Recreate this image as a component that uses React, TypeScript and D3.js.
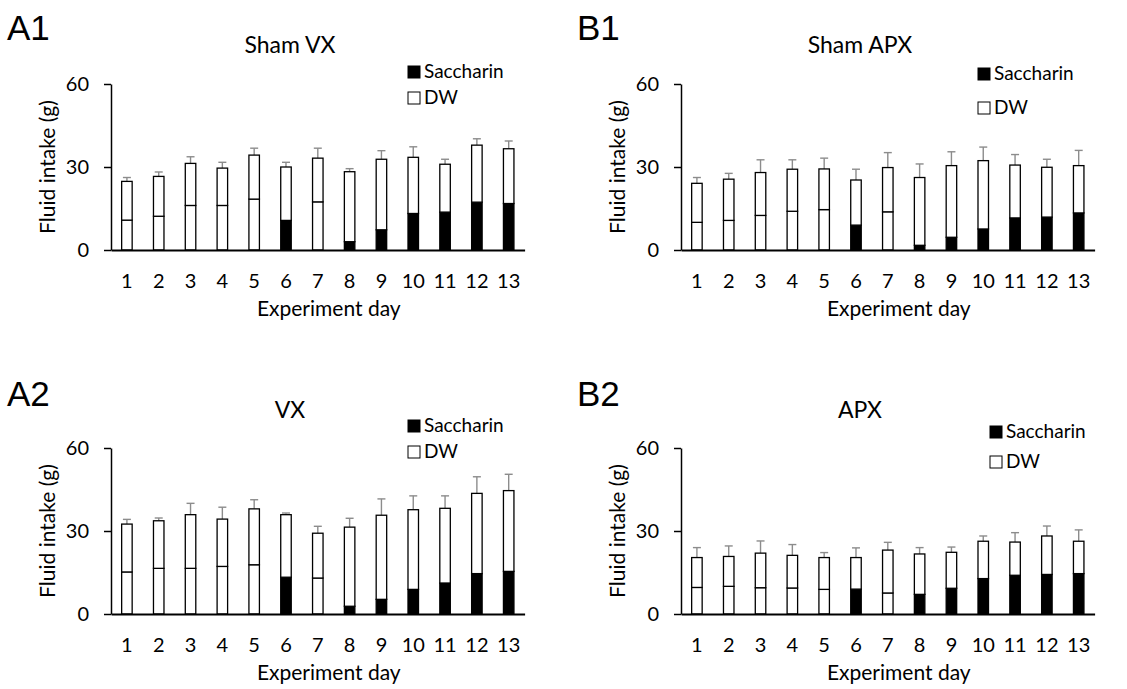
import React, { useEffect, useRef } from 'react';
import * as d3 from 'd3';

// experiment days and the days where the lower bottle held saccharin
const days = ['1', '2', '3', '4', '5', '6', '7', '8', '9', '10', '11', '12', '13'];
const saccharinDays = ['6', '8', '9', '10', '11', '12', '13'];
const yTicks = [0, 30, 60];

// lower segment = first bottle, upper segment = DW, sem = error bar (g)
const shamVxLower = [10.8, 12.2, 16.1, 16.1, 18.4, 10.7, 17.4, 3.0, 7.3, 13.2, 13.7, 17.3, 16.8];
const shamVxUpper = [14.0, 14.4, 15.2, 13.5, 15.9, 19.3, 15.8, 25.3, 25.5, 20.3, 17.3, 20.6, 19.8];
const shamVxSem = [1.4, 1.6, 2.4, 2.1, 2.5, 1.7, 3.6, 1.1, 3.1, 3.8, 1.8, 2.3, 2.8];

const shamApxLower = [10.0, 10.7, 12.5, 14.0, 14.6, 9.0, 13.8, 1.7, 4.6, 7.6, 11.6, 11.9, 13.4];
const shamApxUpper = [14.1, 14.9, 15.5, 15.2, 14.7, 16.3, 16.0, 24.5, 25.9, 24.7, 19.1, 18.0, 17.1];
const shamApxSem = [2.1, 2.1, 4.6, 3.4, 3.9, 3.9, 5.4, 4.9, 5.0, 4.9, 3.8, 2.9, 5.5];

const vxLower = [15.2, 16.5, 16.5, 17.2, 17.8, 13.3, 13.0, 2.8, 5.3, 8.9, 11.2, 14.6, 15.4];
const vxUpper = [17.3, 17.2, 19.4, 17.1, 20.2, 22.6, 16.2, 28.6, 30.4, 28.8, 27.0, 29.0, 29.2];
const vxSem = [1.7, 1.0, 4.1, 4.3, 3.3, 0.6, 2.5, 3.2, 5.9, 5.0, 4.5, 6.0, 5.9];

const apxLower = [9.6, 10.0, 9.5, 9.4, 8.9, 9.0, 7.6, 7.1, 9.3, 12.8, 14.0, 14.3, 14.6];
const apxUpper = [10.8, 10.8, 12.5, 11.8, 11.5, 11.4, 15.5, 14.6, 13.0, 13.5, 12.0, 13.9, 11.7];
const apxSem = [3.6, 3.8, 4.4, 3.9, 1.8, 3.5, 2.8, 2.3, 1.9, 1.9, 3.4, 3.6, 4.1];

const FONT = 'Lato, "Open Sans", sans-serif';

const panels = [
  { letter: 'A1', title: 'Sham VX', lower: shamVxLower, upper: shamVxUpper, sem: shamVxSem,
    left: 111, top: 84, bottom: 250, ox: 0, titleX: 290, titleY: 53, letterY: 40,
    legX: 408, legY1: 72, legY2: 98 },
  { letter: 'B1', title: 'Sham APX', lower: shamApxLower, upper: shamApxUpper, sem: shamApxSem,
    left: 681, top: 84, bottom: 250, ox: 570, titleX: 860, titleY: 53, letterY: 40,
    legX: 978, legY1: 74, legY2: 108 },
  { letter: 'A2', title: 'VX', lower: vxLower, upper: vxUpper, sem: vxSem,
    left: 111, top: 448, bottom: 614, ox: 0, titleX: 290, titleY: 418, letterY: 406,
    legX: 408, legY1: 426, legY2: 452 },
  { letter: 'B2', title: 'APX', lower: apxLower, upper: apxUpper, sem: apxSem,
    left: 681, top: 448, bottom: 614, ox: 570, titleX: 860, titleY: 418, letterY: 406,
    legX: 990, legY1: 432, legY2: 462 },
];

const plotWidth = 413.6;

export default function App() {
  const svgRef = useRef<SVGSVGElement>(null);

  useEffect(() => {
    const svg = d3.select(svgRef.current);
    svg.selectAll('*').remove();

    panels.forEach((p) => {
      const g = svg.append('g');
      const x = d3.scaleBand().domain(days).range([p.left, p.left + plotWidth])
        .paddingInner(0.67).paddingOuter(0.335);
      const y = d3.scaleLinear().domain([0, 60]).range([p.bottom, p.top]);

      const rows = days.map((d, i) => ({ day: d, lower: p.lower[i], upper: p.upper[i], sem: p.sem[i] }));
      const stacked = d3.stack<any>().keys(['lower', 'upper'])(rows);

      // error bars (upward only)
      rows.forEach((r) => {
        const cx = (x(r.day) as number) + x.bandwidth() / 2;
        const t = r.lower + r.upper;
        g.append('line').attr('x1', cx).attr('x2', cx).attr('y1', y(t)).attr('y2', y(t + r.sem))
          .attr('stroke', '#8c8c8c').attr('stroke-width', 1.4);
        g.append('line').attr('x1', cx - 4).attr('x2', cx + 4).attr('y1', y(t + r.sem)).attr('y2', y(t + r.sem))
          .attr('stroke', '#8c8c8c').attr('stroke-width', 1.4);
      });

      stacked.forEach((layer) => {
        g.append('g').selectAll('rect').data(layer).enter().append('rect')
          .attr('x', (d: any) => x(d.data.day) as number)
          .attr('width', x.bandwidth())
          .attr('y', (d: any) => y(d[1]))
          .attr('height', (d: any) => y(d[0]) - y(d[1]))
          .attr('fill', (d: any) => (layer.key === 'lower' && saccharinDays.includes(d.data.day) ? '#000' : '#fff'))
          .attr('stroke', '#000').attr('stroke-width', 1.3);
      });

      // y axis
      const yAxis = g.append('g').attr('transform', `translate(${p.left},0)`)
        .call(d3.axisLeft(y).tickValues(yTicks).tickSize(7).tickPadding(15).tickSizeOuter(0));
      yAxis.select('.domain').attr('stroke', '#000').attr('stroke-width', 1.5);
      yAxis.selectAll('line').attr('stroke', '#000').attr('stroke-width', 1.5);
      yAxis.selectAll('text').attr('font-family', FONT).attr('font-size', 20).attr('fill', '#000');

      // x axis
      const xAxis = g.append('g').attr('transform', `translate(0,${p.bottom})`)
        .call(d3.axisBottom(x).tickSize(0).tickPadding(24).tickSizeOuter(0));
      xAxis.select('.domain').attr('stroke', '#000').attr('stroke-width', 1.8);
      xAxis.selectAll('text').attr('font-family', FONT).attr('font-size', 20).attr('fill', '#000');

      g.append('text').attr('x', p.left + plotWidth / 2 + 11).attr('y', p.bottom + 66)
        .attr('text-anchor', 'middle').attr('font-family', FONT).attr('font-size', 21)
        .text('Experiment day');

      g.append('text').attr('transform', `translate(${p.left - 56},${(p.top + p.bottom) / 2}) rotate(-90)`)
        .attr('text-anchor', 'middle').attr('font-family', FONT).attr('font-size', 21)
        .text('Fluid intake (g)');

      g.append('text').attr('x', p.titleX).attr('y', p.titleY).attr('text-anchor', 'middle')
        .attr('font-family', FONT).attr('font-size', 23).text(p.title);

      g.append('text').attr('x', p.ox + 7).attr('y', p.letterY)
        .attr('font-family', '"Liberation Sans", Arial, sans-serif').attr('font-size', 35).text(p.letter);

      // legend
      [{ label: 'Saccharin', fill: '#000', cy: p.legY1 }, { label: 'DW', fill: '#fff', cy: p.legY2 }].forEach((l) => {
        g.append('rect').attr('x', p.legX).attr('y', l.cy - 6).attr('width', 12).attr('height', 12)
          .attr('fill', l.fill).attr('stroke', '#000').attr('stroke-width', 1);
        g.append('text').attr('x', p.legX + 16).attr('y', l.cy + 6)
          .attr('font-family', FONT).attr('font-size', 19).text(l.label);
      });
    });
  }, []);

  return (
    <svg ref={svgRef} width={1127} height={689}
      style={{ position: 'absolute', left: 0, top: 0, background: '#fff' }} />
  );
}
